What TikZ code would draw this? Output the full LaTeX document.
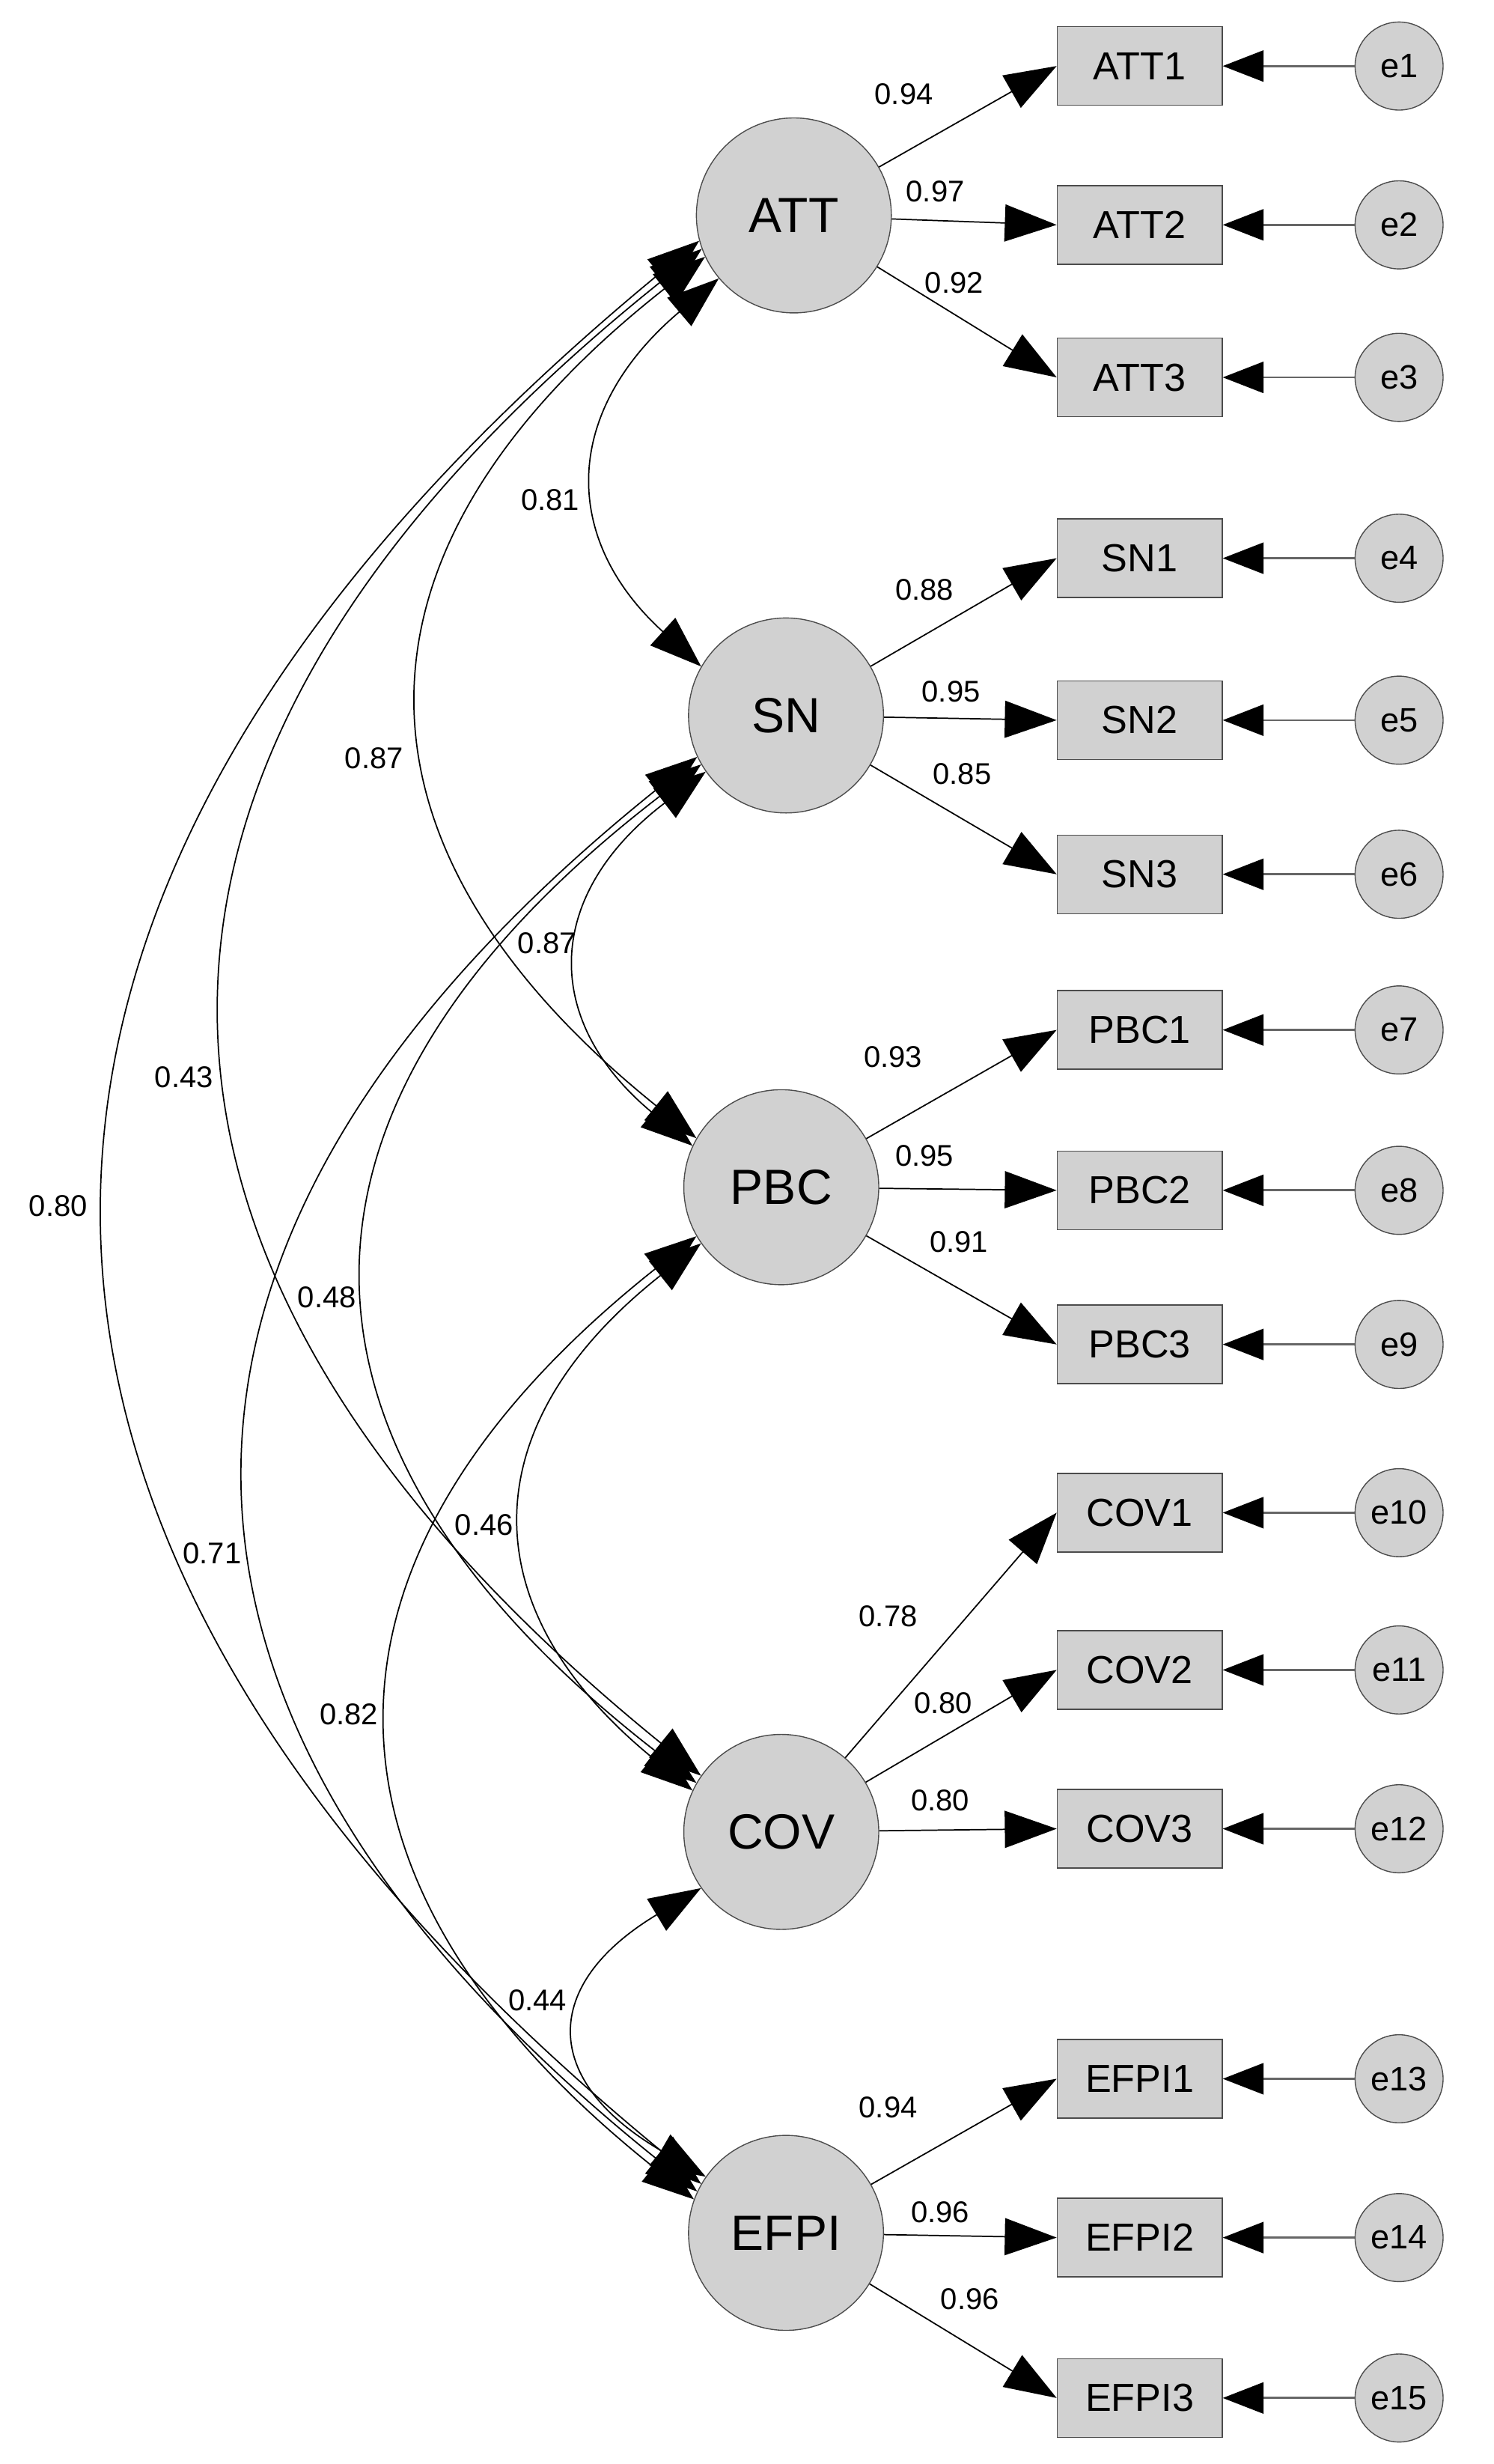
\documentclass[tikz,border=0pt]{standalone}
\usepackage{fontspec}
\setmainfont{Liberation Sans}
\usetikzlibrary{arrows.meta}
\begin{document}
\begin{tikzpicture}[x=0.02122cm,y=-0.02122cm,
 lat/.style={circle,draw=black!70,fill=black!18,minimum size=124\pgfpointsoneunit,inner sep=0,font=\fontsize{19}{20}\selectfont},
 box/.style={draw=black!70,fill=black!18,minimum width=105\pgfpointsoneunit,minimum height=50\pgfpointsoneunit,inner sep=0,font=\fontsize{15}{16}\selectfont},
 err/.style={circle,draw=black!70,fill=black!18,minimum size=56\pgfpointsoneunit,inner sep=0,font=\fontsize{13}{14}\selectfont},
 lbl/.style={font=\fontsize{11.5}{12}\selectfont,inner sep=1pt},
 load/.style={-{Triangle[length=0.7cm,width=0.5cm]},black,line width=0.5pt},
 ea/.style={-{Triangle[length=0.55cm,width=0.42cm,color=black]},black!60,line width=0.8pt},
 cov/.style={{Triangle[length=0.7cm,width=0.5cm]}-{Triangle[length=0.7cm,width=0.5cm]},black,line width=0.5pt}]
\def\pgfpointsoneunit{*0.02122cm}
\path[use as bounding box] (0,0) rectangle (950,1567);
\node[lat] (ATT) at (505,137) {ATT};
\node[lat] (SN) at (500,455) {SN};
\node[lat] (PBC) at (497,755) {PBC};
\node[lat] (COV) at (497,1165) {COV};
\node[lat] (EFPI) at (500,1420) {EFPI};
\foreach \n/\y/\e in {ATT1/42/1,ATT2/143/2,ATT3/240/3,SN1/355/4,SN2/458/5,SN3/556/6,PBC1/655/7,PBC2/757/8,PBC3/855/9,COV1/962/10,COV2/1062/11,COV3/1163/12,EFPI1/1322/13,EFPI2/1423/14,EFPI3/1525/15}{
 \node[box] (\n) at (725,\y) {\n};
 \node[err] (e\e) at (890,\y) {e\e};
 \draw[ea] (e\e) -- (\n.east);
}
\draw[load] (ATT) -- (ATT1.west); \draw[load] (ATT) -- (ATT2.west); \draw[load] (ATT) -- (ATT3.west);
\draw[load] (SN) -- (SN1.west); \draw[load] (SN) -- (SN2.west); \draw[load] (SN) -- (SN3.west);
\draw[load] (PBC) -- (PBC1.west); \draw[load] (PBC) -- (PBC2.west); \draw[load] (PBC) -- (PBC3.west);
\draw[load] (COV) -- (COV1.west); \draw[load] (COV) -- (COV2.west); \draw[load] (COV) -- (COV3.west);
\draw[load] (EFPI) -- (EFPI1.west); \draw[load] (EFPI) -- (EFPI2.west); \draw[load] (EFPI) -- (EFPI3.west);
\foreach \t/\x/\y in {0.94/575/60,0.97/595/122,0.92/607/180,0.88/588/375,0.95/605/440,0.85/612/492,0.93/568/672,0.95/588/735,0.91/610/790,0.78/565/1028,0.80/600/1083,0.80/598/1145,0.94/565/1340,0.96/598/1407,0.96/617/1462,0.81/350/318,0.87/238/482,0.43/117/685,0.80/37/767,0.87/348/600,0.48/208/825,0.71/135/988,0.46/308/970,0.82/222/1090,0.44/342/1272}
 \node[lbl] at (\x,\y) {\t};
\draw[cov] (ATT.220) .. controls (357,262) and (357,343) .. (SN.150);
\draw[cov] (ATT.205) .. controls (211,350) and (211,537) .. (PBC.150);
\draw[cov] (ATT.200) .. controls (44,480) and (44,803) .. (COV.145);
\draw[cov] (ATT.195) .. controls (-55,565) and (-55,977) .. (EFPI.150);
\draw[cov] (SN.215) .. controls (345,570) and (345,650) .. (PBC.155);
\draw[cov] (SN.210) .. controls (165,702) and (165,918) .. (COV.150);
\draw[cov] (SN.205) .. controls (65,785) and (65,1090) .. (EFPI.155);
\draw[cov] (PBC.215) .. controls (299,907) and (299,1023) .. (COV.155);
\draw[cov] (PBC.210) .. controls (186,990) and (186,1195) .. (EFPI.160);
\draw[cov] (COV.215) .. controls (344,1262) and (344,1323) .. (EFPI.145);
\end{tikzpicture}
\end{document}
